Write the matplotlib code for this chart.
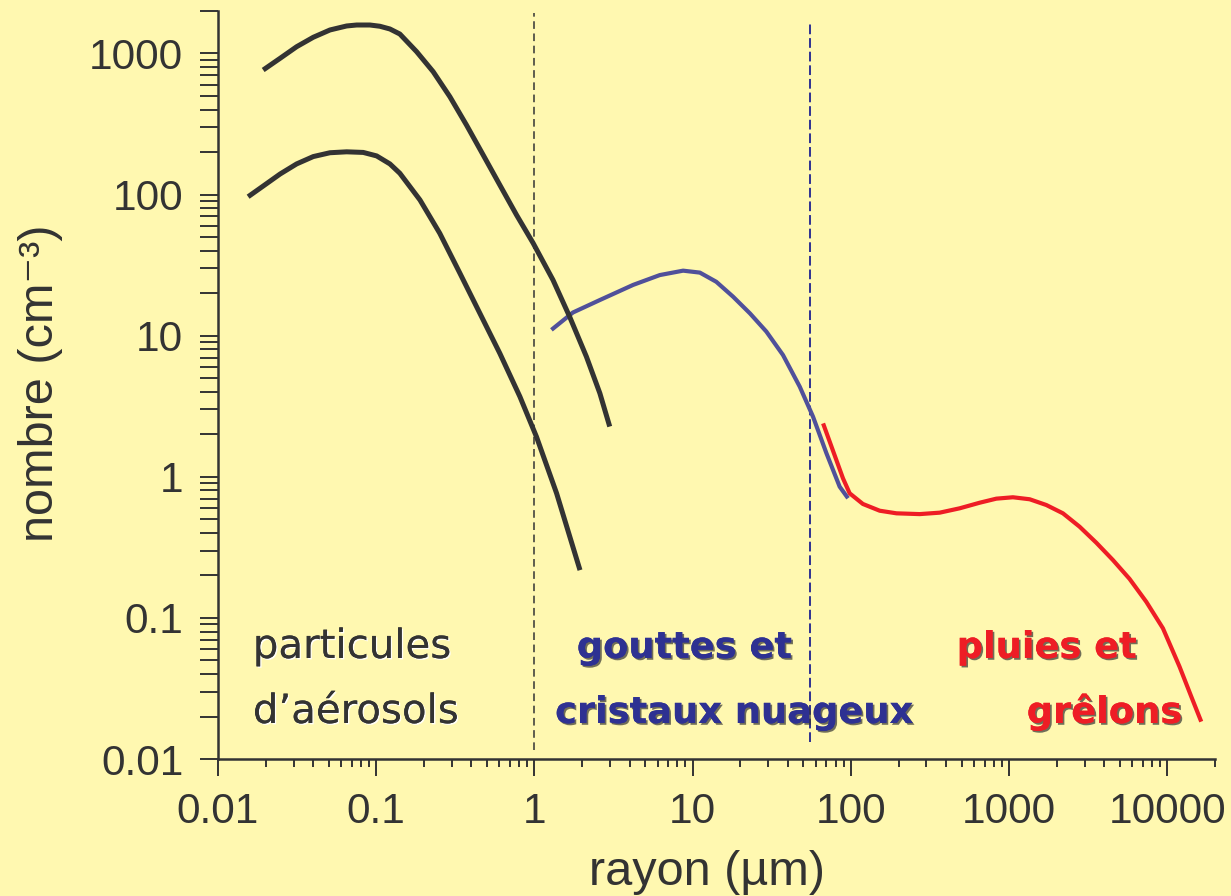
import numpy as np
import matplotlib
matplotlib.use("Agg")
import matplotlib.pyplot as plt
import matplotlib.patheffects as pe
from matplotlib.ticker import FixedLocator, NullFormatter

# --- data (radius in um, number in cm^-3) ---
aero_hi_r = [0.0193, 0.0247, 0.0314, 0.040, 0.051, 0.065, 0.0752, 0.0912, 0.1054, 0.122,
             0.141, 0.180, 0.229, 0.292, 0.372, 0.474, 0.604, 0.771, 0.982, 1.31,
             1.67, 2.13, 2.59, 2.99]
aero_hi_n = [764, 925, 1117, 1303, 1468, 1567, 1592, 1592, 1560, 1492,
             1374, 1030, 743, 494, 311, 191, 117, 71.6, 45.2, 24.8,
             13.6, 7.10, 3.91, 2.27]

aero_lo_r = [0.0155, 0.0193, 0.0247, 0.0314, 0.040, 0.051, 0.065, 0.0828, 0.1006, 0.122,
             0.141, 0.189, 0.252, 0.338, 0.452, 0.604, 0.809, 1.03, 1.38, 1.94]
aero_lo_n = [96.6, 115, 140, 165, 186, 198, 201, 199, 188, 165,
             141.6, 91.6, 53.2, 27.7, 14.4, 7.50, 3.70, 1.92, 0.764, 0.218]

cloud_r = [1.28, 1.75, 2.59, 4.20, 6.20, 8.70, 11.1, 14.1, 18.0, 23.0,
           29.2, 37.2, 47.5, 57.6, 70.0, 84.9, 95.9]
cloud_n = [11.0, 14.6, 17.9, 22.9, 26.9, 28.9, 28.0, 24.1, 18.9, 14.4,
           10.7, 7.30, 4.35, 2.67, 1.47, 0.851, 0.705]

rain_r = [66.7, 73.5, 81.0, 89.1, 98.2, 119, 152, 194, 272, 364,
          487, 651, 830, 1057, 1349, 1718, 2188, 2787, 3556, 4529,
          5768, 7360, 9375, 11940, 14160, 16370]
rain_n = [2.39, 1.77, 1.31, 0.975, 0.764, 0.642, 0.575, 0.551, 0.544, 0.557,
          0.598, 0.655, 0.700, 0.716, 0.693, 0.631, 0.551, 0.443, 0.341, 0.257,
          0.189, 0.130, 0.0844, 0.0451, 0.0277, 0.0184]

boundaries = [1, 55]

x_ticks = [0.01, 0.1, 1, 10, 100, 1000, 10000]
x_labels = ["0.01", "0.1", "1", "10", "100", "1000", "10000"]
y_ticks = [0.01, 0.1, 1, 10, 100, 1000]
y_labels = ["0.01", "0.1", "1", "10", "100", "1000"]

BG = '#FFF8B0'
INK = '#333333'
BLUE_LINE = '#50509A'
BLUE_TXT = '#2E3192'
RED = '#EE1D25'

fig = plt.figure(figsize=(12.31, 8.96), dpi=100, facecolor=BG)
ax = fig.add_axes([0.1771, 0.1529, 0.8099, 0.8348], facecolor=BG)

ax.set_xscale('log')
ax.set_yscale('log')
ax.set_xlim(0.01, 20000)
ax.set_ylim(0.01, 2000)

# region boundaries
ax.axvline(boundaries[0], ymin=0.012, ymax=0.997, color=INK, lw=1.1, ls=(0, (5, 3)))
ax.axvline(boundaries[1], ymin=0.023, ymax=0.987, color=BLUE_TXT, lw=1.4, ls=(0, (5, 2)))

# curves
line_kw = dict(solid_capstyle='butt', solid_joinstyle='round')
ax.plot(cloud_r, cloud_n, color=BLUE_LINE, lw=3.0, **line_kw)
ax.plot(rain_r, rain_n, color=RED, lw=3.0, **line_kw)
ax.plot(aero_hi_r, aero_hi_n, color=INK, lw=3.6, **line_kw)
ax.plot(aero_lo_r, aero_lo_n, color=INK, lw=3.6, **line_kw)

# axes look
for s in ['top', 'right']:
    ax.spines[s].set_visible(False)
for s in ['left', 'bottom']:
    ax.spines[s].set_color(INK)
    ax.spines[s].set_linewidth(1.8)

ax.xaxis.set_major_locator(FixedLocator(x_ticks))
ax.set_xticklabels(x_labels)
ax.yaxis.set_major_locator(FixedLocator(y_ticks))
ax.set_yticklabels(y_labels)
ax.xaxis.set_minor_formatter(NullFormatter())
ax.yaxis.set_minor_formatter(NullFormatter())

ax.tick_params(axis='x', which='major', direction='out', length=12, width=1.4, color=INK,
               pad=12, labelsize=30.5, labelcolor=INK)
ax.tick_params(axis='x', which='minor', direction='out', length=6, width=1.4, color=INK)
ax.tick_params(axis='y', which='both', direction='out', length=13, width=1.4, color=INK,
               pad=12, labelsize=30.5, labelcolor=INK)
for lab in ax.get_xticklabels() + ax.get_yticklabels():
    lab.set_family('Liberation Sans')

ax.set_xlabel('rayon (µm)', fontsize=35, color=INK, family='Liberation Sans')
ax.set_ylabel('nombre (cm\u207b\u00b3)', fontsize=35, color=INK,
              family=['Liberation Sans', 'DejaVu Sans'])
ax.xaxis.set_label_coords(0.49, -0.122)
ax.yaxis.set_label_coords(-0.155, 0.503)

# region labels
light = [pe.withSimplePatchShadow(offset=(1, -1), shadow_rgbFace='white', alpha=0.9), pe.Normal()]
dark = [pe.withSimplePatchShadow(offset=(1.3, -1.3), shadow_rgbFace='#333333', alpha=0.7), pe.Normal()]

ax.text(0.0166, 0.052, 'particules', fontsize=29, color=INK, family='DejaVu Sans',
        va='baseline', ha='left', path_effects=light)
ax.text(0.0166, 0.018, 'd\u2019aérosols', fontsize=29, color=INK, family='DejaVu Sans',
        va='baseline', ha='left', path_effects=light)
ax.text(1.85, 0.052, 'gouttes et', fontsize=26.5, color=BLUE_TXT, family='DejaVu Sans',
        weight='bold', va='baseline', ha='left', path_effects=dark)
ax.text(1.35, 0.018, 'cristaux nuageux', fontsize=26.5, color=BLUE_TXT, family='DejaVu Sans',
        weight='bold', va='baseline', ha='left', path_effects=dark)
ax.text(466, 0.052, 'pluies et', fontsize=26.5, color=RED, family='DejaVu Sans',
        weight='bold', va='baseline', ha='left', path_effects=dark)
ax.text(1291, 0.018, 'grêlons', fontsize=26.5, color=RED, family='DejaVu Sans',
        weight='bold', va='baseline', ha='left', path_effects=dark)

fig.savefig('out.png', dpi=100, facecolor=BG)
